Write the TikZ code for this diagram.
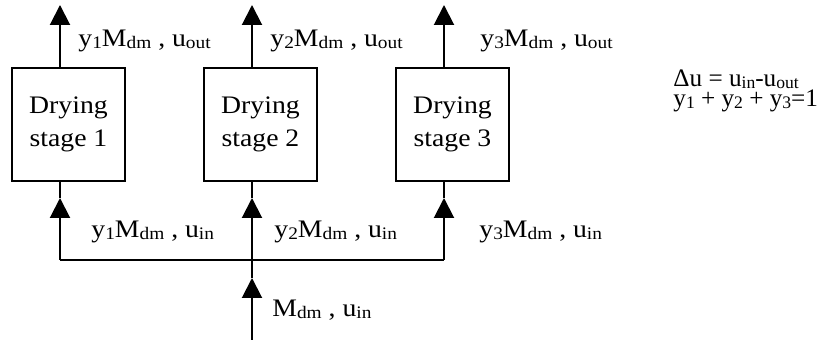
\documentclass[tikz,border=0pt]{standalone}
\usepackage{fontspec}
\setmainfont{Liberation Serif}
\newfontfamily\widefont{Liberation Serif}[FakeStretch=1.1]
\usetikzlibrary{arrows.meta,calc,positioning}
\newcommand{\sub}[1]{\raisebox{-1pt}{\fontsize{8.8}{10}\selectfont #1}}

\begin{document}
\begin{tikzpicture}[x=0.5pt,y=-0.5pt,
    every node/.style={font=\widefont\fontsize{12.6}{15}\selectfont},
    stage/.style={draw,line width=1pt,minimum width=56.5pt,minimum height=56.5pt,align=center,font=\widefont\fontsize{12.6}{16.5}\selectfont},
    flow/.style={line width=1pt,-{Triangle[length=10pt,width=10pt]}},
    lab/.style={anchor=base west,inner sep=0pt}]
  \useasboundingbox (0,0) rectangle (820,340);
  % stages with outlet and inlet streams
  \foreach \i/\x in {1/68.5,2/260.5,3/452.5} {
    \node[stage] (stage\i) at (\x,124.5) {Drying\\stage \i};
    \coordinate (out\i) at (\x-8.5,5);
    \coordinate (in\i) at (\x-8.5,198);
    \coordinate (split\i) at (\x-8.5,260);
    \draw[flow] (stage\i.north -| out\i) -- (out\i);
    \draw[flow] (split\i) -- (in\i);
    \draw[line width=1pt] (in\i) -- (stage\i.south -| in\i);
  }
  % distribution header and feed
  \coordinate (feed) at (252,340);
  \coordinate (feedtip) at (252,278);
  \draw[line width=1pt] (split1) -- (split3);
  \draw[flow] (feed) -- (feedtip);
  \draw[line width=1pt] (feedtip) -- (split2);
  % stream labels
  \node[lab] (lout1) at (78,47) {y\sub{1}M\sub{dm} , u\sub{out}};
  \node[lab] (lout2) at (270,47) {y\sub{2}M\sub{dm} , u\sub{out}};
  \node[lab] (lout3) at (480,47) {y\sub{3}M\sub{dm} , u\sub{out}};
  \node[lab] (lin1) at (91,238) {y\sub{1}M\sub{dm} , u\sub{in}};
  \node[lab] (lin2) at (274,238) {y\sub{2}M\sub{dm} , u\sub{in}};
  \node[lab] (lin3) at (479,238) {y\sub{3}M\sub{dm} , u\sub{in}};
  \node[lab] (lfeed) at (272,317) {M\sub{dm} , u\sub{in}};
  % balance
  \node[lab,font=\rmfamily\fontsize{12.6}{15}\selectfont] (bal1) at (673,87) {Δu = u\sub{in}-u\sub{out}};
  \node[lab,font=\rmfamily\fontsize{12.6}{15}\selectfont] (bal2) at (673,107) {y\sub{1} + y\sub{2} + y\sub{3}=1};
\end{tikzpicture}
\end{document}
